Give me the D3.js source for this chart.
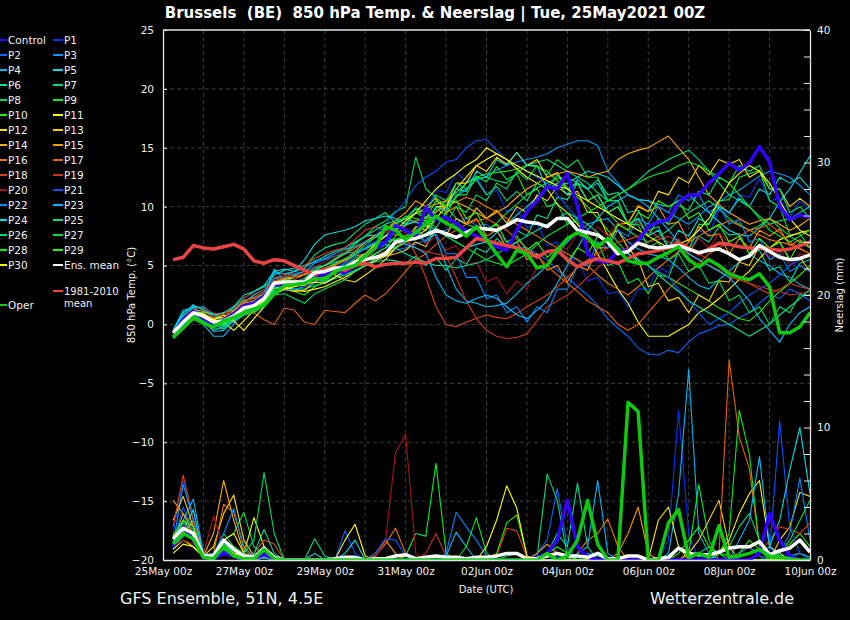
<!DOCTYPE html>
<html>
<head>
<meta charset="utf-8">
<script src="https://cdn.jsdelivr.net/npm/d3@7"></script>
<style>
  body { margin: 0; background: #000; }
  svg { display: block; font-family: "DejaVu Sans", sans-serif; }
</style>
</head>
<body>
<div id="chart"></div>
<script>
// forecast steps (hours after 25May 00z), every 6h
const hours = d3.range(6, 385, 6);
const xTickHours = [0, 48, 96, 144, 192, 240, 288, 336, 384];
const xTickLabels = ["25May 00z", "27May 00z", "29May 00z", "31May 00z", "02Jun 00z",
                     "04Jun 00z", "06Jun 00z", "08Jun 00z", "10Jun 00z"];
const tempTicks = [-20, -15, -10, -5, 0, 5, 10, 15, 20, 25];
const rainTicks = [0, 10, 20, 30, 40];

// 850 hPa temperature (°C)
const tempControl = [-0.8,0.4,1.1,0.5,0.0,0.4,0.9,1.6, 1.8,2.4,3.4,3.3,3.5,3.7,4.0,4.3,
  4.6,4.4,5.0,5.8,6.5,7.0,8.4,8.0, 7.5,9.9,8.9,9.1,8.6,7.9,7.5,7.2,
  6.6,6.3,8.0,9.6,10.5,11.7,11.5,12.8, 10.0,6.0,5.4,5.3,6.2,6.3,7.1,8.3,
  8.7,8.9,10.3,11.0,11.0,12.0,12.8,13.7, 13.1,13.7,15.1,13.8,10.0,8.9,9.3,9.1];
const tempOper = [-1.1,-0.3,0.6,0.1,-0.2,0.3,0.6,1.0, 1.3,1.6,2.6,3.3,3.4,3.5,3.9,3.8,
  4.5,4.8,5.0,5.8,6.5,8.3,8.0,7.2, 7.8,8.5,9.2,8.6,8.2,7.5,8.3,7.2,
  6.0,4.9,6.3,6.0,4.8,5.0,6.3,7.3, 7.8,7.4,6.6,7.3,6.4,5.4,5.2,5.2,
  5.7,6.1,6.6,5.5,4.9,5.5,5.0,4.3, 4.0,3.8,4.3,3.2,-0.7,-0.7,-0.2,1.0];
const tempMean = [-0.7,0.2,1.0,0.7,0.2,0.3,0.7,1.4, 1.6,2.2,3.5,3.6,3.6,3.6,4.4,4.5,
  4.8,4.8,5.3,5.5,5.7,6.0,7.0,7.2, 7.3,7.6,8.0,7.7,7.4,7.8,8.2,8.1,
  8.0,8.4,8.9,8.7,8.6,8.3,9.0,9.0, 8.0,7.8,7.6,7.0,6.0,6.2,6.9,6.6,
  6.5,6.6,6.7,6.4,6.1,6.3,6.4,6.0, 5.5,5.8,6.7,6.2,5.7,5.5,5.6,5.9];
const tempClim = [5.5,5.7,6.7,6.5,6.4,6.6,6.8,6.4, 5.4,5.2,5.5,5.4,5.0,4.6,4.2,4.7,
  4.8,4.6,5.0,5.2,4.9,5.1,5.2,5.2, 5.3,5.2,5.6,5.6,5.7,6.5,7.3,7.1,
  6.9,6.7,6.5,6.2,5.7,6.2,6.3,5.5, 4.9,5.3,5.6,5.4,5.2,5.6,6.0,6.1,
  6.3,6.5,6.9,6.5,6.0,6.4,6.9,6.8, 6.6,6.5,6.5,6.4,6.3,6.4,6.7,7.0];

const tempP1 = [-0.9,0.5,1.3,0.6,-0.1,0.2,0.9,1.5, 1.9,2.6,3.8,3.4,3.3,3.9,4.8,4.4,
  4.5,5.3,5.9,6.4,6.0,6.8,7.9,8.5, 9.8,9.6,11.4,11.2,12.9,12.2,12.6,11.0,
  11.4,9.6,9.8,8.2,8.6,6.7,7.0,5.4, 5.6,3.7,4.0,2.6,2.8,1.5,3.0,3.0,
  4.9,4.4,6.3,6.3,8.0,7.6,9.7,9.4, 11.0,10.8,12.4,10.5,10.7,9.1,10.5,9.7];
const tempP2 = [-0.8,0.6,1.0,0.3,-0.4,-0.3,0.4,1.0, 1.3,2.4,3.1,3.0,2.8,3.4,3.8,3.6,
  4.0,4.2,4.6,5.0,5.5,5.8,6.3,6.5, 6.8,7.2,7.9,8.0,8.6,9.0,8.4,8.5,
  7.9,7.0,6.6,6.5,6.0,5.5,4.6,4.0, 3.2,2.5,1.6,0.5,-0.3,-1.0,-2.0,-2.5,
  -2.6,-2.2,-2.4,-1.5,-0.8,-0.5,-0.1,0.0, 0.6,1.0,1.8,2.5,2.2,3.0,2.6,2.0];
const tempP3 = [-1.0,0.2,1.6,1.2,0.6,0.5,1.2,2.0, 2.3,2.8,3.9,4.0,4.3,4.5,5.2,5.5,
  5.8,6.0,6.2,6.5,7.0,7.5,8.1,8.5, 8.8,9.0,9.6,10.0,10.8,11.5,12.3,12.5,
  13.1,13.5,13.8,14.0,14.2,14.5,15.0,15.3, 15.6,15.6,15.2,13.0,12.0,11.0,10.6,10.5,
  10.0,9.5,9.0,8.5,9.2,10.0,10.4,11.0, 11.4,12.0,12.6,13.0,12.8,12.5,11.8,11.0];
const tempP4 = [-0.6,0.8,1.7,0.0,-1.0,-1.0,0.0,1.5, 2.0,2.5,4.7,3.8,4.2,4.5,4.9,5.0,
  5.3,5.5,5.9,6.5,6.9,7.0,7.2,7.5, 8.0,8.5,7.5,5.0,3.0,2.0,1.8,1.5,
  1.6,1.8,2.6,3.5,4.2,5.0,6.0,7.0, 7.8,8.5,8.8,9.0,8.0,7.0,6.4,6.0,
  5.8,5.5,4.8,4.0,3.3,3.0,3.8,4.5, 5.3,6.0,5.4,5.0,4.3,4.0,3.4,3.0];
const tempP5 = [-0.5,1.2,1.4,1.5,0.9,0.4,1.1,1.8, 2.5,3.0,4.2,4.6,4.8,5.0,5.3,5.8,
  6.2,6.5,7.0,7.5,7.6,8.0,8.6,9.0, 8.7,8.5,8.0,7.5,7.0,6.5,6.8,7.0,
  7.8,8.5,9.3,10.0,10.8,11.5,11.8,12.0, 12.5,13.0,12.8,12.5,11.8,11.0,10.6,10.5,
  10.2,10.0,10.5,11.0,10.2,9.5,8.7,8.0, 7.6,7.5,8.2,9.0,10.4,11.5,12.9,14.3];
const tempP6 = [-1.1,0.0,0.5,0.9,0.3,0.0,0.2,0.8, 1.1,1.5,2.6,3.2,3.0,3.0,3.3,3.5,
  3.9,4.2,4.6,5.0,5.3,5.5,5.4,5.2, 5.8,5.0,5.7,4.6,5.6,5.1,6.5,6.1,
  7.3,6.6,8.0,7.5,9.3,9.0,10.8,10.6, 12.0,11.5,12.3,11.0,11.2,9.5,9.7,8.0,
  8.3,6.6,7.2,6.0,7.5,7.0,8.3,7.6, 7.7,6.0,6.3,4.6,4.9,3.6,5.2,5.5];
const tempP7 = [-0.7,0.4,1.1,1.0,0.9,0.8,1.4,2.2, 2.8,3.2,3.9,4.2,4.5,4.8,5.9,6.5,
  6.8,7.0,7.8,8.5,9.0,9.5,8.6,8.0, 7.6,7.0,8.2,9.5,10.8,12.0,12.4,12.5,
  12.2,12.0,12.8,13.5,13.8,14.0,13.5,13.0, 12.5,12.0,11.2,10.5,11.0,11.5,12.2,13.0,
  13.5,14.0,14.4,14.8,14.0,13.0,12.0,11.0, 10.5,10.0,9.2,8.5,8.8,9.0,9.5,10.0];
const tempP8 = [-1.0,-0.2,0.7,0.4,0.0,-0.4,0.5,1.2, 1.5,2.0,3.0,3.6,4.0,4.2,4.8,5.0,
  5.5,6.2,6.9,7.5,8.3,8.8,9.6,10.0, 14.2,11.5,10.8,10.0,9.0,8.5,8.2,8.0,
  8.6,9.5,10.2,11.0,11.6,12.0,12.4,12.5, 12.0,11.5,10.4,9.5,8.6,8.0,7.4,7.0,
  7.5,8.0,8.8,9.5,10.0,10.5,9.8,9.0, 8.5,8.0,8.4,9.0,8.2,7.5,7.0,6.5];
const tempP9 = [-0.8,0.3,1.2,0.8,0.4,0.6,1.0,1.6, 1.8,2.4,3.3,3.5,3.8,3.5,4.0,4.2,
  4.6,5.2,6.0,6.4,6.8,7.5,8.5,9.0, 9.8,9.1,9.8,9.3,11.0,11.0,12.6,12.1,
  13.4,12.3,12.8,11.0,11.5,10.0,10.3,8.5, 8.8,7.0,7.0,5.0,5.3,3.5,3.9,2.6,
  4.2,4.0,6.2,6.3,8.5,8.5,10.5,10.6, 12.5,12.8,13.1,10.5,10.0,7.6,7.7,6.5];
const tempP10 = [-1.2,-0.4,0.4,0.2,-0.2,0.0,0.5,1.1, 1.4,1.9,2.8,3.0,2.8,2.5,3.2,3.6,
  4.0,4.4,5.0,5.8,6.5,7.0,7.2,7.5, 8.2,8.8,9.5,10.5,11.2,12.0,12.5,12.8,
  12.9,13.0,13.2,13.5,13.4,13.0,12.2,11.5, 10.8,10.0,9.0,8.0,7.0,6.0,5.3,5.0,
  4.4,4.0,3.5,3.0,2.5,2.0,1.4,1.0, 0.5,0.3,1.0,2.0,2.8,3.5,4.2,5.0];
const tempP11 = [-0.9,0.1,0.8,0.5,0.4,0.2,-0.5,0.3, 1.2,2.0,2.7,3.2,2.9,2.8,3.0,3.2,
  3.6,4.0,4.5,5.0,5.4,5.8,6.5,7.0, 7.5,8.0,9.0,10.0,11.5,12.5,13.5,14.0,
  14.5,14.0,13.2,12.5,12.0,11.5,10.2,9.5, 8.5,7.5,6.0,4.5,3.0,1.8,0.2,-1.0,
  -1.0,-1.0,-0.5,0.0,1.0,1.5,2.2,3.0, 3.8,4.5,5.6,6.5,7.2,7.5,7.8,8.0];
const tempP12 = [-0.8,0.4,0.9,0.6,0.1,0.5,1.0,1.5, 1.6,2.1,3.5,3.8,4.0,4.2,4.5,4.6,
  4.2,3.8,3.6,4.2,4.8,5.5,6.5,7.0, 8.3,8.0,10.0,10.0,12.0,12.0,13.5,13.0,
  14.2,13.6,14.6,13.5,14.0,12.5,12.9,11.5, 12.0,10.5,11.0,9.5,10.0,8.6,10.0,9.6,
  11.3,11.0,12.5,12.0,13.5,12.7,14.0,13.6, 14.0,12.5,13.0,11.5,11.5,10.0,10.7,10.0];
const tempP13 = [-0.7,0.0,0.7,0.2,-0.3,0.3,0.8,1.0, 1.4,1.8,3.2,3.0,2.8,2.9,3.6,4.0,
  4.4,4.8,5.2,5.5,5.6,5.8,6.0,6.3, 7.0,6.6,8.1,7.6,9.0,8.5,9.9,9.0,
  9.7,8.6,10.0,9.5,11.0,10.5,11.7,11.0, 11.3,9.5,9.5,7.5,8.0,6.5,5.5,3.2,
  3.5,2.0,2.3,1.0,2.5,2.0,3.7,3.6, 5.3,5.0,6.7,6.5,7.0,5.5,5.7,4.5];
const tempP14 = [-0.9,0.3,1.0,0.9,0.5,0.6,1.1,1.8, 2.0,2.5,3.6,3.9,4.1,4.3,4.6,5.0,
  5.5,6.0,6.5,7.0,7.5,8.0,8.6,9.0, 9.4,9.8,10.2,10.5,10.4,10.0,9.5,9.0,
  9.5,10.0,10.8,11.5,12.0,12.5,12.8,13.0, 12.8,12.5,12.8,13.0,14.0,14.5,14.8,15.0,
  15.5,16.0,15.0,14.0,12.5,11.0,10.2,9.5, 9.0,8.5,8.8,9.0,8.5,8.0,8.4,9.0];
const tempP15 = [-0.6,0.5,1.3,1.1,0.8,1.0,1.2,2.0, 2.2,2.6,3.4,3.6,3.4,3.3,4.2,4.8,
  5.1,5.5,6.2,7.0,7.6,8.0,8.8,9.5, 10.5,10.0,10.7,9.5,10.0,8.5,9.0,7.5,
  8.0,6.5,7.0,5.5,6.0,4.6,5.0,3.6, 5.0,4.6,6.5,6.5,8.5,8.6,10.1,9.6,
  10.0,8.5,8.7,7.0,8.3,7.5,7.7,6.0, 7.3,6.5,8.0,7.5,8.1,6.7,7.2,6.5];
const tempP16 = [-0.8,0.2,0.9,0.7,0.3,0.4,0.6,1.3, 1.6,2.4,3.4,3.3,3.5,3.8,4.5,4.8,
  5.0,5.4,5.8,6.0,6.8,7.5,8.0,8.4, 8.8,9.0,9.6,10.0,10.4,10.8,10.5,10.0,
  9.6,9.0,8.5,8.0,7.5,7.0,6.5,6.0, 5.5,5.0,4.2,3.5,3.0,2.5,3.2,4.0,
  4.8,5.5,6.2,7.0,7.5,8.0,8.4,8.8, 8.4,8.0,7.6,7.2,7.0,6.8,6.4,6.0];
const tempP17 = [-0.9,0.0,0.8,0.4,0.0,0.2,0.4,0.9, 1.0,0.4,0.0,1.4,1.2,0.2,0.0,1.2,
  1.1,1.0,1.8,2.5,2.0,2.6,3.5,4.5, 5.5,6.0,6.8,7.5,8.0,8.5,8.8,9.0,
  8.5,8.0,7.2,6.5,5.8,5.0,4.2,3.5, 2.8,2.0,1.5,1.0,0.0,-0.5,0.0,1.0,
  2.0,3.0,3.8,4.5,5.2,6.0,6.5,7.0, 7.5,8.0,8.2,8.5,7.8,7.0,6.5,6.0];
const tempP18 = [-0.7,0.5,1.2,0.8,0.6,0.9,1.0,1.9, 2.3,2.8,3.7,4.0,4.5,5.0,5.6,6.0,
  6.3,6.5,7.2,8.0,8.3,8.0,7.6,7.5, 6.0,4.0,1.5,0.0,-0.2,0.2,0.5,0.8,
  0.6,0.5,0.9,1.5,2.0,2.5,3.2,4.0, 4.8,5.5,6.0,6.5,7.0,7.2,7.5,8.0,
  7.4,7.0,6.5,6.0,5.5,5.0,4.6,4.0, 3.8,3.5,3.0,2.6,3.0,3.5,3.2,3.0];
const tempP19 = [-0.8,0.1,1.0,0.5,0.2,0.3,1.0,1.4, 1.8,2.2,3.5,3.5,3.8,4.2,4.5,4.4,
  4.6,5.0,5.4,5.8,6.0,6.2,6.8,7.0, 6.5,6.2,6.0,5.8,4.0,2.0,0.5,-0.5,
  -1.0,-1.2,-1.1,-0.8,0.3,1.5,2.0,2.5, 3.2,4.0,4.8,5.5,6.2,6.5,6.8,7.0,
  7.2,7.5,7.0,6.5,6.0,5.5,5.0,4.5, 4.0,3.5,3.2,3.0,2.8,2.5,2.6,2.8];
const tempP20 = [-0.6,0.6,1.3,1.4,1.0,0.8,1.6,2.3, 2.6,3.0,4.0,4.2,4.0,4.4,4.9,5.3,
  5.8,6.2,6.6,7.0,7.4,7.8,8.0,7.8, 8.0,6.8,7.5,6.3,6.7,5.0,5.3,3.6,
  4.0,2.6,3.7,3.0,5.0,5.0,6.7,6.4, 7.7,7.0,8.3,7.5,8.7,8.0,8.7,7.5,
  8.0,6.5,7.3,6.0,7.3,6.5,7.7,7.0, 7.5,6.0,6.7,5.5,6.3,5.0,6.0,5.8];
const tempP21 = [-0.9,0.3,0.9,0.4,0.0,0.1,0.7,1.4, 1.6,2.2,3.2,3.4,3.2,3.6,4.2,4.5,
  4.8,5.2,5.8,6.5,7.5,8.5,9.5,10.5, 11.8,12.5,13.0,13.8,14.0,15.0,15.6,15.7,
  14.8,14.0,13.5,13.0,12.5,12.0,11.0,10.0, 9.0,8.0,7.5,7.0,6.5,6.0,5.5,5.0,
  4.5,4.0,3.0,2.0,1.0,0.0,0.5,1.0, 1.8,2.5,3.0,3.5,4.2,5.0,5.5,6.0];
const tempP22 = [-1.0,0.0,0.6,0.2,-0.2,-0.2,0.3,0.9, 1.2,1.8,2.9,2.9,3.0,3.2,3.5,3.7,
  4.0,4.4,5.0,5.5,6.0,6.5,6.9,7.2, 7.9,7.0,7.7,6.0,6.0,4.0,4.0,2.2,
  2.5,1.0,1.5,0.2,1.5,1.0,3.0,3.0, 5.0,5.0,7.0,6.5,8.0,7.5,9.0,8.5,
  10.0,9.5,11.0,10.5,11.0,9.5,10.1,8.5, 8.9,7.0,7.3,5.5,6.0,4.5,5.0,4.5];
const tempP23 = [-0.6,0.7,1.5,0.5,-0.6,-0.5,0.3,1.4, 1.9,2.6,4.4,4.3,4.5,4.8,5.4,5.6,
  6.0,6.4,6.6,7.0,7.4,7.5,7.0,6.8, 6.5,6.0,4.0,2.5,2.0,1.8,2.2,2.5,
  2.2,1.5,0.8,0.5,1.2,2.0,3.5,5.0, 6.5,8.0,9.0,10.0,10.5,11.0,10.6,10.0,
  9.0,8.0,7.0,6.0,5.5,5.0,4.5,4.0, 3.0,2.0,0.5,-0.5,-1.5,0.0,1.0,1.5];
const tempP24 = [-0.5,1.0,1.6,1.3,0.8,1.0,1.5,2.5, 2.8,3.3,4.5,4.7,4.5,5.5,6.8,7.6,
  7.8,8.0,8.3,8.8,9.0,9.2,9.0,8.5, 8.7,8.3,10.0,9.7,11.5,11.3,13.0,12.5,
  14.0,13.5,14.6,13.5,13.5,11.5,12.0,11.0, 12.3,11.5,12.0,10.5,10.5,8.5,9.0,7.5,
  8.0,6.5,8.0,7.5,9.0,8.5,10.0,9.5, 10.7,10.0,11.5,11.0,12.5,12.0,12.5,11.5];
const tempP25 = [-1.1,-0.1,0.8,0.6,0.2,0.0,0.6,1.1, 1.5,2.2,3.0,3.4,3.5,3.6,4.2,4.4,
  4.7,5.0,5.6,6.0,6.4,6.8,6.5,6.0, 5.6,5.3,5.0,5.0,4.8,5.0,5.2,5.5,
  6.0,6.5,7.0,7.5,8.0,8.5,9.0,9.5, 9.0,8.5,7.8,7.0,6.5,6.0,5.5,5.0,
  4.2,3.5,2.8,2.0,1.5,1.0,0.5,0.0, -0.5,-1.0,-0.5,0.0,0.8,1.5,2.2,3.0];
const tempP26 = [-0.8,0.3,0.9,0.6,0.1,-0.1,0.6,1.3, 1.7,2.3,3.2,3.8,3.6,3.9,4.6,5.0,
  5.6,6.0,6.8,7.5,8.0,8.5,8.8,9.0, 9.9,9.5,11.0,10.5,12.0,11.5,12.3,11.0,
  11.7,10.5,11.3,10.5,12.0,11.5,12.7,11.5, 12.0,10.5,11.0,9.5,10.0,8.5,9.0,7.5,
  9.0,8.5,10.1,9.7,11.3,11.0,12.5,12.0, 13.5,13.0,13.5,11.5,11.5,9.5,10.0,9.0];
const tempP27 = [-1.0,-0.3,0.5,0.2,-0.5,-0.2,0.4,0.8, 1.0,1.6,2.5,2.6,2.2,1.8,2.6,3.0,
  3.4,3.8,4.5,5.0,5.6,6.2,6.6,7.0, 8.0,7.5,9.0,8.5,10.0,9.5,11.0,10.5,
  12.0,11.5,13.0,12.3,13.5,12.7,14.0,13.3, 14.0,12.5,12.5,10.5,10.5,8.5,8.5,6.5,
  7.0,5.5,6.0,4.5,5.0,3.5,3.7,2.0, 2.5,1.0,1.5,0.0,1.5,1.0,2.5,2.5];
const tempP28 = [-0.9,0.2,0.9,0.4,-0.1,0.2,0.8,1.5, 1.9,2.5,3.3,3.2,3.4,3.9,4.4,4.7,
  5.2,5.6,6.0,6.8,7.4,8.0,8.5,9.2, 9.0,8.8,8.2,7.5,7.0,6.5,6.0,5.5,
  5.2,5.0,5.5,6.0,6.8,7.5,8.0,8.5, 9.0,9.5,10.0,10.5,11.0,11.5,12.0,12.5,
  12.8,13.0,13.5,13.8,13.5,13.0,12.5,12.0, 11.0,10.0,9.0,8.0,7.5,7.0,7.5,8.0];
const tempP29 = [-1.1,-0.2,0.6,0.3,0.0,0.1,0.5,1.0, 1.3,1.9,3.0,3.3,3.2,3.5,3.9,4.0,
  4.3,4.6,5.0,5.5,6.0,6.5,7.5,8.5, 9.5,9.0,10.5,10.0,10.5,9.0,9.5,8.0,
  8.5,7.0,7.5,6.3,7.0,5.7,6.5,5.3, 6.5,6.0,7.5,7.0,8.5,8.0,9.5,9.0,
  10.5,10.0,10.5,9.0,9.5,8.0,8.5,7.0, 7.5,6.0,7.3,6.5,7.0,5.5,7.0,7.0];
const tempP30 = [-0.7,0.4,1.1,0.9,0.4,0.8,0.3,-0.5, 0.5,1.5,2.5,3.0,3.2,3.4,3.6,3.5,
  4.0,4.6,5.4,6.0,6.8,7.5,8.0,8.8, 9.5,10.5,11.5,12.2,12.8,13.5,14.0,15.0,
  14.5,14.0,13.5,13.0,12.6,12.2,11.8,11.5, 11.0,10.5,10.0,9.5,9.0,8.5,8.0,7.5,
  7.0,6.5,6.8,7.2,8.0,9.0,10.5,12.0, 12.8,13.5,13.0,12.0,10.5,9.0,8.0,7.5];

// precipitation per 6h (mm)
const rainControl = [1.0,2.5,1.5,0.2,0.1,0.5,0.3,0, 0.1,0.4,0.1,0,0,0,0,0,
  0,0,0,0,0,0,0,0, 0,0,0,0,0,0,0,0,
  0,0,0,0,0.2,0.5,1.5,4.5, 1.0,0.2,0,0,0,0,0,0,
  0,0,0,0,0,0,0,0, 0,0,0.5,3.5,1.5,0.3,0,0];
const rainOper = [1.2,2.0,1.6,0.2,0.1,1.0,0.3,0.1, 0.1,0.8,0.1,0,0,0,0,0,
  0,0,0,0,0,0,0,0, 0,0,0,0,0,0,0,0,
  0,0,0,0,0,0.5,0,0.3, 1.5,4.5,1.2,0,0,11.9,11.2,0,
  0,2.8,3.8,0.2,0.5,0.2,2.6,0.2, 0.3,0.5,0.8,0.3,0.2,0.1,0,0];
const rainMean = [1.6,2.4,2.0,0.3,0.3,1.5,0.8,0.3, 0.2,0.9,0.2,0,0,0,0,0,
  0.1,0.2,0.2,0,0.1,0.1,0.3,0.4, 0.1,0.2,0.3,0.2,0.2,0.1,0.2,0.2,
  0.3,0.5,0.5,0.1,0.1,0.3,0.5,0.3, 0.3,0.2,0.5,0.1,0.1,0.3,0.3,0,
  0.1,0.2,0.9,0.5,0.4,0.4,0.6,0.9, 1.0,1.0,1.4,0.4,0.7,0.9,1.5,0.6];

const rainP1 = [2.0,6.0,3.5,0.4,0.2,1.0,0.5,0, 0,0.3,0,0,0,0,0,0,
  0,0,0,0,0,0,0,0, 0,0,0,0,0,0,0,0,
  0,0,0,0,0,0,0.3,0, 0,0,0,0,0,0,0,0,
  0,1.5,11.3,2.0,0,0.5,0,0, 0,0,0,0,0.3,0.5,0,0];
const rainP2 = [1.5,3.0,2.5,0.3,0.5,1.5,0.8,0.2, 0.2,0.5,0,0,0,0,0,0,
  0,2.2,0.5,0,0,0,0,0, 0,0,0,0,0,0,0,0,
  0,0,0,0,0.5,1.5,5.4,1.0, 0,0,0,0,0,0,0,0,
  0,0,0,0,0,0,0,0, 0,0,0,0,0,0,0,0];
const rainP3 = [1.2,5.7,3.0,0.5,0.3,1.0,0.5,0.1, 0,0.2,0,0,0,0,0,0,
  0,0,0,0,0,0,0,0, 0,0,0,0,0,0,0,0,
  0,0,0,0,0,0,0,0, 0,0.5,0.3,0,0,0,0,0,
  0,0,0,0,0,0,0,0, 0.5,1.0,0.3,0,0,0,0,0];
const rainP4 = [1.0,1.8,2.2,0.3,0.2,0.8,0.3,0, 0,0.5,0,0,0,0,0,0,
  0,0,0,0,0,0,0,0, 0,0,0,0,0,0,0,0,
  0,0,0,0,0,0,0,0, 0,0,0,0,0,0,0,0,
  0,0.5,5.0,14.4,2.0,0.5,0,0, 0,0,0,0,0,0,0,0];
const rainP5 = [0.8,2.0,3.0,0.2,0.3,0.6,0.4,0.2, 0,0.3,0,0,0,0,0,0,
  0,0.5,1.5,0,0,0,0,0, 0,0,0,0,0,0,0,0,
  0,0,0,0,0,0,0,0, 0,0,0,0,0,0,0,0,
  0,0,0,0,0,0,0,0, 0,0,0,0,0,0.3,0.5,0.2];
const rainP6 = [1.4,2.2,1.8,0.2,0.4,1.2,0.5,0.1, 0,0.2,0,0,0,0,1.6,0.3,
  0,0,0,0,0,0,0,0, 0,0,0,0,0,0,0,0,
  0,0,0,0,0,0.5,2.0,1.0, 5.8,1.0,0,0,0,0,0,0,
  0,0,0,0,0,0,0,0, 0,0,0,0,0,0,0,0];
const rainP7 = [1.8,2.5,2.4,0.4,0.3,2.0,1.0,0.3, 0.2,0.5,0,0,0,0,0,0,
  0,0,0,0,0,0,0,0, 0,0,0.3,0.2,0,0,0,0,
  0,0.3,0.5,0,0,0,0,0, 0,0,0,0,0,0,0,0,
  0,0,0,0,0,0,0.5,1.0, 2.5,3.5,1.5,0.5,0.3,0,0,0];
const rainP8 = [1.5,2.0,1.5,0.3,0.5,1.5,2.0,3.6, 1.0,0.5,0,0,0,0,0,0,
  0,0,0,0,0,0,0,0, 0,0,0,0,0,0,0,0,
  0,0,0,0,0,0,0,0, 0,0,0,0,0,0,0,0,
  0,0,0,0,0,0,0,0, 0,0,0,0,0,0,0,0];
const rainP9 = [1.6,2.8,2.2,0.2,0.2,1.0,0.4,0.1, 0,0.4,0,0,0,0,0,0,
  0,0,0,0,0,0,0,0.3, 2.0,1.8,7.3,0.5,0,0,0,0,
  0,0,0,0,0,0,0,0, 0,0,0,0,0,0,0,0,
  0,0,0,0.5,5.7,1.5,0,0, 0,0,0,0,0,0,0,0];
const rainP10 = [1.7,2.3,1.9,0.4,0.3,1.1,0.5,0.2, 0.1,0.5,0,0,0,0,0,0,
  0,0,0,0,0,0,0,0, 0,0,0,0,0,0,0,0,
  0.5,2.8,3.4,0.3,0,0,0,0, 0,0,0,0,0,0,0,0,
  0,0,0,0,0,0,0,0, 0.5,1.5,0.8,0,0.5,1.2,2.0,1.0];
const rainP11 = [0.8,1.5,1.0,0.2,0.3,1.5,2.0,0.5, 3.2,1.0,0.2,0,0,0,0,0,
  0,1.5,2.7,0.3,0,0,0,0, 0,0,0,0,0,0,0,0,
  0,0,0,0,0,0,0,0, 0,0,0,0,0,0,0,0,
  0,0,0,0,0,0,0.5,1.5, 3.5,5.0,6.0,1.0,0.5,0,0,0];
const rainP12 = [1.0,2.0,1.5,0.3,1.0,3.5,4.9,1.5, 0.3,0.2,0,0,0,0,0,0,
  0,0,0,0,0,0,0,0, 0,0,0,0,0,0,0,0,
  0,0,0,0,0,0,0,0, 0,0,0,0,0,0,0,0,
  3.0,4.0,1.0,0,0,0,0,0, 0,0,0,0,1.5,2.5,5.1,4.8];
const rainP13 = [3.0,4.8,2.5,0.3,0.5,1.5,0.8,0.3, 0.2,0.3,0,0,0,0,0,0,
  0,0,0,0,0,0,0,0, 0,0,0,0,0,0,0,0,
  0,0,0,0,0,0,0,0, 0,0,0,0,0,0,0,0,
  0,0,0,0.5,1.5,3.0,4.5,1.0, 0,0,0,0,0,0,0,0];
const rainP14 = [1.5,3.5,2.0,0.3,2.0,6.0,3.0,0.5, 0.3,0.2,0,0,0,0,0,0,
  0,0,0,0,0,0,0,0, 0,0,0,0,0,0,0,0,
  0,0,0,0,0.5,1.2,0.5,0, 0,0,0,0,0,0,0,0,
  0,0,0,0,0,0,0,0, 0,0,0,0,0,0,0,0];
const rainP15 = [4.5,3.5,2.5,0.5,0.3,1.0,0.5,0.2, 0,0.3,0,0,0,0,0,0,
  0,0,0,0,0.5,1.5,0.5,0, 0,0,0,0,0,0,0,0,
  0,0,0,0,0,0,0,0, 0,0,0,0,0.5,2.0,4.0,0.5,
  0,0,0,0,0,0,0,0, 0,0,0,0,0,0,0,0];
const rainP16 = [1.8,3.0,2.0,0.3,0.5,4.2,3.6,1.0, 0.2,0.5,0,0,0,0,0,0,
  0,0,0,0,0.3,1.2,2.4,0.5, 0,0,0,0,0,0,0,0,
  0,0,0,0,0,0,0,0, 0.5,1.5,2.0,3.1,1.0,0,0,0,
  0,0,0,0,0,0,0,0, 0,0,0,0,0,0,0,0];
const rainP17 = [2.0,2.5,1.5,0.2,0.3,1.0,0.4,0.1, 0,0.2,0,0,0,0,0,0,
  0,0,0,0,0,0,0,0, 0,0,0,0,0,0,0,0,
  0,0,0,0,0,0,0,0, 0,0,0,0,0,0,0,0,
  0,0,0,0,0,0,0.5,15.1, 9.3,6.9,1.0,0.3,0,0,0,0];
const rainP18 = [2.5,6.4,3.0,0.4,0.5,1.0,0.8,0.2, 0.5,1.5,1.2,0,0,0,0,0,
  0,0,0,0,0,0,0,0, 0,0,0,0,0,0,0,0,
  0.3,2.4,2.2,0.2,0,0,0,0, 0,0,0,0,0,0,0,0,
  0,0,0,0,0,0,0,0, 0,0,0,0,0,0,0,0];
const rainP19 = [1.2,2.0,1.5,0.3,0.2,0.8,0.3,0.1, 0,0.3,0,0,0,0,0,0,
  0,0,0,0,0,0,0,0, 0,0.5,2.0,0.3,0,0,0,0,
  0,0,0,0,0,0,0,0, 0,0,0,0,0,0,0,0,
  0,0,0,0,0,0,0,0, 0,0,0.5,1.5,2.5,2.3,2.0,2.8];
const rainP20 = [1.0,1.5,1.2,0.5,3.3,1.0,0.3,0.1, 0,0.2,0,0,0,0,0,0,
  0,0,0,0,0.2,1.4,8.1,9.5, 0.5,0,0,0,0,0,0,0,
  0,0,0,0,0,0,0,0, 0,0,0,0,0,0,0,0,
  0,0,0,0,0,0,0,0, 0,0,0,0,0,0,0,0];
const rainP21 = [1.3,4.0,2.0,0.3,0.2,0.8,0.4,0.2, 0,0.2,0,0,0,0,0,0,
  0,0,0,0,0.5,1.6,1.5,0.3, 0,0,0,0,0,0,0,0,
  0,0,0,0,0,0,0,0, 0,0,0,0,0,0,0,0,
  0,0,0,0,0,0,0,0, 0,0,0,0.5,10.5,2.5,0.5,0];
const rainP22 = [1.5,2.5,2.0,0.3,0.5,2.0,3.9,0.8, 0.2,0.5,0,0,0,0,0,0,
  0,0,0,0,0,0,0,0, 0,0,0,0.5,3.6,2.5,1.5,0.3,
  0,0,0,0,0,0,0,0, 0,0,0,0,0,0,0,0,
  0,0,0,0,0,0,0,0, 0,0,0,0,0.5,2.0,6.2,1.5];
const rainP23 = [1.5,3.0,4.6,0.5,0.3,1.0,0.5,0.2, 0,0.3,0,0,0,0,0,0,
  0,0,0,0,0,0,0,0, 0,0,0,0.3,2.1,1.0,0,0,
  0,0,0,0,0,0,0,0, 0.5,1.0,6.0,0.5,0,0,0,0,
  0,0,0,0,0,0,0,0, 1.5,3.0,7.8,1.0,0.3,0,0,0];
const rainP24 = [1.0,2.2,3.8,0.3,0.2,0.8,0.3,0, 0,0.2,0,0,0,0,0.5,0,
  0,0,0,0,0,0,0,0, 0,0,0,0,0,0,0,0,
  0,0,0,0,0,0,0,0, 0,0,0,0,0,0,0,0,
  0,0,0,0,0,0,0,0, 0,0,0.5,1.0,3.0,6.8,10.0,5.0];
const rainP25 = [1.2,2.0,1.6,0.2,0.3,1.2,0.7,0.2, 0.5,2.3,0.5,0,0,0,0,0,
  0,0,0,0,0,0,0,0, 0,0,0,0,0,0,0,0,
  0,0,0,0,0,0,0,0, 0,0,0,0,0,0,0,0,
  0,0,0,0,0.5,1.0,0.5,0, 0,0,0,0,0,0,0,0];
const rainP26 = [1.4,2.5,2.0,0.3,0.2,1.0,0.5,0.1, 0,0.3,0,0,0,0,0,0,
  0,0,0,0,0,0,0,0, 0,0,0,0,0,0,0,0,
  0,0,0,0,0.2,6.5,4.5,0.3, 0,0,0,0,0,0,0,0,
  0,0,0,0,0,0,0,0, 0,0,0,0,0,0,0,0];
const rainP27 = [1.3,2.2,1.5,0.3,0.4,1.5,1.0,0.5, 1.5,6.6,2.0,0,0,0,0,0,
  0,0,0,0,0,0,0,0, 0,0,0,0,0,0,0,0,
  0,0,0,0,0,0,0,0, 0,0,0,0,0,0,0,0,
  0,0,0,0,0,0,0,0, 0,0,0,0,0.5,1.5,3.0,4.5];
const rainP28 = [1.6,2.6,1.8,0.2,0.3,1.2,0.5,0.2, 0,0.4,0,0,0,0,0,0,
  0,0,0,0,0,0,0,0, 0,0,0,0,0,1.0,3.2,0.5,
  0,0,0,0,0,0,0,0, 0,0,0,0,0,0,0,0,
  0,0,0,0,0,0,0.5,2.0, 11.3,8.0,1.0,0.3,0,0,0,0];
const rainP29 = [1.8,3.0,2.5,0.3,0.4,1.5,0.8,0.2, 0.2,0.8,0.3,0,0,0,0,0,
  0,0,0,0,0,0,0,0, 0,0,0,0,0,0,0,0,
  0,0,0,0,0,0.5,1.0,0.5, 0,0,0,0,0,0,0,0,
  0,0,0.5,1.5,2.5,1.0,0.5,0.3, 0,0,0,0,0,0,0,0];
const rainP30 = [0.5,1.2,1.0,0.2,0.3,1.0,0.5,0.3, 0,0.3,0,0,0,0,0,0,
  0,0,0,0,0,0,0,0, 0,0,0,0,0,0,0,1.0,
  3.0,5.6,3.9,0.3,0,0,0,0, 0,0,0,0,0,0,0,0,
  0,0,0,0,0,0,0,0, 0,0,0,0,0,0,0,0];

// member table built from the arrays above
const memberNames = ["P1","P2","P3","P4","P5","P6","P7","P8","P9","P10",
  "P11","P12","P13","P14","P15","P16","P17","P18","P19","P20",
  "P21","P22","P23","P24","P25","P26","P27","P28","P29","P30"];
const memberColors = ["#0033ff","#0066ff","#0099ff","#00bbee","#00dde8","#00dd99","#00dd77","#00dd55","#00ee33","#22ee00",
  "#ffff00","#ffdd00","#ffcc00","#ffaa00","#ff9900","#ee7700","#e86000","#dd4411","#cc3322","#aa1122",
  "#0055ff","#0088ff","#00bbff","#00dddd","#00dd99","#00dd77","#00dd55","#00ee22","#22ff00","#ffff00"];
const memberTemps = [tempP1,tempP2,tempP3,tempP4,tempP5,tempP6,tempP7,tempP8,tempP9,tempP10,
  tempP11,tempP12,tempP13,tempP14,tempP15,tempP16,tempP17,tempP18,tempP19,tempP20,
  tempP21,tempP22,tempP23,tempP24,tempP25,tempP26,tempP27,tempP28,tempP29,tempP30];
const memberRains = [rainP1,rainP2,rainP3,rainP4,rainP5,rainP6,rainP7,rainP8,rainP9,rainP10,
  rainP11,rainP12,rainP13,rainP14,rainP15,rainP16,rainP17,rainP18,rainP19,rainP20,
  rainP21,rainP22,rainP23,rainP24,rainP25,rainP26,rainP27,rainP28,rainP29,rainP30];

const controlColor = "#3300ff", operColor = "#10c810", meanColor = "#ffffff", climColor = "#e84444";

function drawChart() {
    const margin = { top: 30, right: 40, bottom: 60, left: 163 };
    const W = 850, H = 620;
    const width = W - margin.left - margin.right;   // 647
    const height = H - margin.top - margin.bottom;  // 530

    const svg = d3.select("#chart")
        .html("")
        .append("svg")
        .attr("width", W)
        .attr("height", H)
        .style("background", "#000");

    const g = svg.append("g")
        .attr("transform", `translate(${margin.left},${margin.top})`);

    // scales
    const xScale = d3.scaleLinear().domain([0, 384]).range([0, width]);
    const yTemp = d3.scaleLinear().domain([-20, 25]).range([height, 0]);
    const yRain = d3.scaleLinear().domain([0, 40]).range([height, 0]);

    // dashed grid
    g.append("g")
        .selectAll("line")
        .data(d3.range(24, 384, 24))
        .enter()
        .append("line")
        .attr("x1", d => xScale(d)).attr("x2", d => xScale(d))
        .attr("y1", 0).attr("y2", height)
        .attr("stroke", "#3c3c3c")
        .attr("stroke-dasharray", "4,3");

    g.append("g")
        .selectAll("line")
        .data(tempTicks.filter(d => d > -20 && d < 25))
        .enter()
        .append("line")
        .attr("x1", 0).attr("x2", width)
        .attr("y1", d => yTemp(d)).attr("y2", d => yTemp(d))
        .attr("stroke", "#3c3c3c")
        .attr("stroke-dasharray", "4,3");

    g.append("defs").append("clipPath")
        .attr("id", "plot-clip")
        .append("rect")
        .attr("width", width)
        .attr("height", height + 1);

    const plot = g.append("g").attr("clip-path", "url(#plot-clip)");

    const tempLine = d3.line()
        .x((d, i) => xScale(hours[i]))
        .y(d => yTemp(d));
    const rainLine = d3.line()
        .x((d, i) => xScale(hours[i]))
        .y(d => yRain(d));

    function addSeries(values, lineGen, color, w) {
        plot.append("path")
            .datum(values)
            .attr("d", lineGen)
            .attr("fill", "none")
            .attr("stroke", color)
            .attr("stroke-width", w)
            .attr("stroke-linejoin", "round");
    }

    // ensemble members (thin)
    memberTemps.forEach((vals, i) => addSeries(vals, tempLine, memberColors[i], 1.1));
    memberRains.forEach((vals, i) => addSeries(vals, rainLine, memberColors[i], 1.1));

    // highlighted runs (thick)
    addSeries(rainControl, rainLine, controlColor, 3.5);
    addSeries(tempControl, tempLine, controlColor, 3.5);
    addSeries(rainMean, rainLine, meanColor, 3.5);
    addSeries(tempClim, tempLine, climColor, 3.5);
    addSeries(tempMean, tempLine, meanColor, 3.5);
    addSeries(rainOper, rainLine, operColor, 3.5);
    addSeries(tempOper, tempLine, operColor, 3.5);

    // axes
    const axisColor = "#e6e6e6";

    const leftAxis = g.append("g")
        .call(d3.axisLeft(yTemp).tickValues(tempTicks).tickSize(-4).tickSizeOuter(0).tickPadding(9));

    const rightAxis = g.append("g")
        .attr("transform", `translate(${width},0)`)
        .call(d3.axisRight(yRain)
            .tickValues(d3.range(0, 41, 2))
            .tickSize(-6).tickSizeOuter(0).tickPadding(7)
            .tickFormat(d => rainTicks.includes(d) ? d : ""));

    const bottomAxis = g.append("g")
        .attr("transform", `translate(0,${height})`)
        .call(d3.axisBottom(xScale)
            .tickValues(xTickHours)
            .tickSize(0).tickPadding(8)
            .tickFormat((d, i) => xTickLabels[i]));

    [leftAxis, rightAxis, bottomAxis].forEach(ax => {
        ax.selectAll("path").attr("stroke", axisColor).attr("stroke-width", 1.3);
        ax.selectAll("line").attr("stroke", axisColor);
        ax.selectAll("text")
            .attr("fill", "#f0f0f0")
            .style("font-family", "DejaVu Sans")
            .style("font-size", "10.5px");
    });

    // top border
    g.append("line")
        .attr("x1", 0).attr("x2", width)
        .attr("y1", 0).attr("y2", 0)
        .attr("stroke", axisColor)
        .attr("stroke-width", 1.3);

    // axis titles
    svg.append("text")
        .attr("transform", `translate(135,${margin.top + height / 2}) rotate(-90)`)
        .attr("text-anchor", "middle")
        .attr("fill", "#f0f0f0")
        .style("font-size", "10px")
        .text("850 hPa Temp. (°C)");

    svg.append("text")
        .attr("transform", `translate(843,${margin.top + height / 2}) rotate(-90)`)
        .attr("text-anchor", "middle")
        .attr("fill", "#f0f0f0")
        .style("font-size", "10px")
        .text("Neerslag (mm)");

    svg.append("text")
        .attr("x", 486).attr("y", 593)
        .attr("text-anchor", "middle")
        .attr("fill", "#f0f0f0")
        .style("font-size", "10px")
        .text("Date (UTC)");

    // title and footer
    svg.append("text")
        .attr("x", 435).attr("y", 18)
        .attr("text-anchor", "middle")
        .attr("fill", "#ffffff")
        .style("font-size", "15px")
        .style("font-weight", "bold")
        .style("white-space", "pre")
        .text("Brussels  (BE)  850 hPa Temp. & Neerslag | Tue, 25May2021 00Z");

    svg.append("text")
        .attr("x", 120).attr("y", 604)
        .attr("fill", "#f0f0f0")
        .style("font-size", "16px")
        .text("GFS Ensemble, 51N, 4.5E");

    svg.append("text")
        .attr("x", 650).attr("y", 604)
        .attr("fill", "#f0f0f0")
        .style("font-size", "16px")
        .text("Wetterzentrale.de");

    // legend: two columns
    const legendItems = [{ name: "Control", color: controlColor }]
        .concat(memberNames.map((n, i) => ({ name: n, color: memberColors[i] })))
        .concat([{ name: "Ens. mean", color: meanColor }]);

    const legend = svg.append("g");
    legendItems.forEach((d, i) => {
        const col = i % 2, row = Math.floor(i / 2);
        const lx = col === 0 ? 0 : 53;
        const ly = 40 + row * 15;
        legend.append("line")
            .attr("x1", lx).attr("x2", lx + (col === 0 ? 7 : 10))
            .attr("y1", ly).attr("y2", ly)
            .attr("stroke", d.color).attr("stroke-width", 2);
        legend.append("text")
            .attr("x", lx + (col === 0 ? 8 : 11)).attr("y", ly)
            .attr("dy", "0.35em")
            .attr("fill", "#f0f0f0")
            .style("font-size", "10.5px")
            .text(d.name);
    });

    // climatology (two text lines) and oper entries
    legend.append("line")
        .attr("x1", 53).attr("x2", 63).attr("y1", 291).attr("y2", 291)
        .attr("stroke", climColor).attr("stroke-width", 2);
    legend.append("text")
        .attr("x", 64).attr("y", 291).attr("dy", "0.35em")
        .attr("fill", "#f0f0f0").style("font-size", "10px")
        .text("1981-2010");
    legend.append("text")
        .attr("x", 64).attr("y", 303.5).attr("dy", "0.35em")
        .attr("fill", "#f0f0f0").style("font-size", "10px")
        .text("mean");

    legend.append("line")
        .attr("x1", 0).attr("x2", 7).attr("y1", 305).attr("y2", 305)
        .attr("stroke", operColor).attr("stroke-width", 2);
    legend.append("text")
        .attr("x", 8).attr("y", 305).attr("dy", "0.35em")
        .attr("fill", "#f0f0f0").style("font-size", "10.5px")
        .text("Oper");
}

drawChart();
</script>
</body>
</html>
